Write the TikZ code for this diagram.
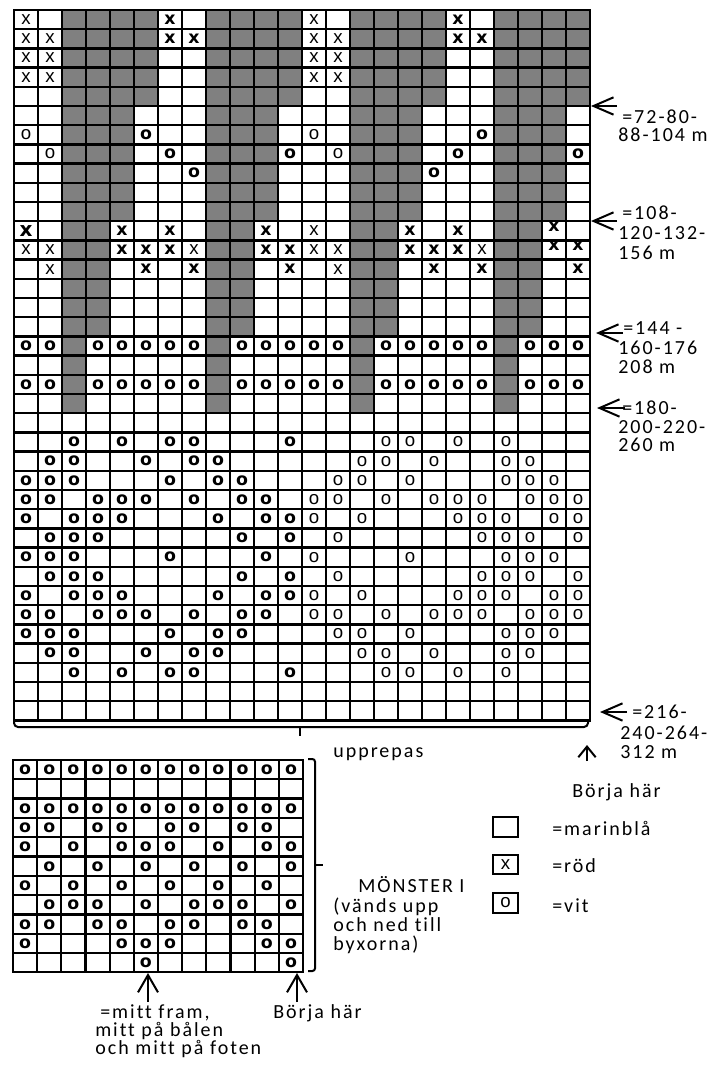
\documentclass[tikz,border=0pt]{standalone}
\usepackage{fontspec}
\setmainfont{Carlito}
\newfontfamily\lblfont[LetterSpace=10,Ligatures={NoCommon}]{Carlito}
\newfontfamily\markfont{DejaVu Sans}
\newfontfamily\thinfont{Liberation Sans}
\usetikzlibrary{arrows.meta}

\begin{document}
\begin{tikzpicture}[x=0.75pt,y=0.75pt,yscale=-1,xscale=1,
  gridline/.style={line width=1.7pt, line cap=rect},
  boldmark/.style={inner sep=0pt, font=\markfont\bfseries\fontsize{13}{13}\selectfont},
  bigmark/.style={inner sep=0pt, font=\markfont\bfseries\fontsize{15}{15}\selectfont},
  thinmark/.style={inner sep=0pt, font=\thinfont\fontsize{14}{14}\selectfont},
  lbl/.style={inner sep=0pt, anchor=base west, font=\lblfont\fontsize{15}{15}\selectfont},
  rowarrow/.style={line width=1.5pt, -{Straight Barb[length=15pt,width=13pt]}},
  uparrow/.style={line width=1.5pt, -{Straight Barb[length=13pt,width=15pt]}},
  smallup/.style={line width=1.5pt, -{Straight Barb[length=8pt,width=13pt]}}]
\useasboundingbox (0,0) rectangle (720,1068);

%% main chart: 24 columns x 37 rows, cell 24 x 19.2
% grey bands
\foreach \k in {0,6,12,18} {
  \fill[gray] ({14+24*(\k+2)},10) rectangle ({14+24*(\k+6)},106);
  \fill[gray] ({14+24*(\k+2)},106) rectangle ({14+24*(\k+5)},221.2);
  \fill[gray] ({14+24*(\k+2)},221.2) rectangle ({14+24*(\k+4)},336.4);
  \fill[gray] ({14+24*(\k+2)},336.4) rectangle ({14+24*(\k+3)},413.2);
}
% grid lines
\foreach \i in {0,...,24} \draw[gridline] ({14+24*\i},10) -- ({14+24*\i},720.4);
\foreach \j in {0,...,37} \draw[gridline] (14,{10+19.2*\j}) -- (590,{10+19.2*\j});

% red stitches (x)
\foreach \r/\cs in {1/{1,13},2/{1,2,13,14},3/{1,2,13,14},4/{1,2,13,14},12/{13},13/{1,2,8,13,14,20},14/{2,14}}
  \foreach \c in \cs \node[thinmark] (x-\r-\c) at ({24*\c+2},{19.2*\r+0.4}) {x};
\foreach \r/\cs in {1/{7,19},2/{7,8,19,20},12/{5,7,11,17,19},13/{5,6,7,11,12,17,18,19},14/{6,8,12,18,20,24}}
  \foreach \c in \cs \node[boldmark] (x-\r-\c) at ({24*\c+2},{19.2*\r+0.4}) {x};
\foreach \r/\cs in {12/{23},13/{23,24}}
  \foreach \c in \cs \node[boldmark] (x-\r-\c) at ({24*\c+2},{19.2*\r-3.6}) {x};
\node[bigmark] (x-12-1) at (26,230.8) {x};

% white stitches (o)
\foreach \r/\cs in {7/{6,20},8/{7,12,19,24},9/{8,18},
    18/{1,2,4,5,6,7,8,10,11,12,13,14,16,17,18,19,20,22,23,24},
    20/{1,2,4,5,6,7,8,10,11,12,13,14,16,17,18,19,20,22,23,24},
    23/{3,5,7,8,12},24/{2,3,6,8,9},25/{1,2,3,7,9,10},26/{1,2,4,5,6,8,10,11},
    27/{1,3,4,5,9,11,12},28/{2,3,4,10,12},29/{1,2,3,7,11},30/{2,3,4,10,12},
    31/{1,3,4,5,9,11,12},32/{1,2,4,5,6,8,10,11},33/{1,2,3,7,9,10},
    34/{2,3,6,8,9},35/{3,5,7,8,12}}
  \foreach \c in \cs \node[boldmark] (o-\r-\c) at ({24*\c+2},{19.2*\r+0.4}) {o};
\foreach \r/\cs in {7/{1,13},8/{2,14},
    23/{16,17,19,21},24/{15,16,18,21,22},25/{14,15,17,21,22,23},
    26/{13,14,16,18,19,20,22,23,24},27/{13,15,19,20,21,23,24},28/{14,20,21,22,24},
    29/{13,17,21,22,23},30/{14,20,21,22,24},31/{13,15,19,20,21,23,24},
    32/{13,14,16,18,19,20,22,23,24},33/{14,15,17,21,22,23},34/{15,16,18,21,22},
    35/{16,17,19,21}}
  \foreach \c in \cs \node[thinmark] (o-\r-\c) at ({24*\c+2},{19.2*\r+0.4}) {o};

% brace under the chart
\draw[line width=1.5pt, rounded corners=3] (14,721) -- (14,727) -- (588,727) -- (588,721);
\draw[line width=1.5pt] (300,727) -- (300,736);

%% size arrows on the right
\coordinate (a1) at (591,106);  \coordinate (a1t) at (617,106);
\coordinate (a2) at (591,221);  \coordinate (a2t) at (617,221);
\coordinate (a3) at (596,333);  \coordinate (a3t) at (623,333);
\coordinate (a4) at (597,408);  \coordinate (a4t) at (625,408);
\coordinate (a5) at (600,712);  \coordinate (a5t) at (627,712);
\foreach \n in {1,...,5} \draw[rowarrow] (a\n t) -- (a\n);

% Text Node
\node[lbl] (s1a) at (622,123) {=72-80-};
\node[lbl] (s1b) at (618,141) {88-104 m};
\node[lbl] (s2a) at (622,219) {=108-};
\node[lbl] (s2b) at (618,239) {120-132-};
\node[lbl] (s2c) at (618,259) {156 m};
\node[lbl] (s3a) at (623,334) {=144 -};
\node[lbl] (s3b) at (618,354) {160-176};
\node[lbl] (s3c) at (618,373) {208 m};
\node[lbl] (s4a) at (622,414) {=180-};
\node[lbl] (s4b) at (618,433) {200-220-};
\node[lbl] (s4c) at (618,451) {260 m};
\node[lbl] (s5a) at (632,718) {=216-};
\node[lbl] (s5b) at (620,739) {240-264-};
\node[lbl] (s5c) at (620,758) {312 m};

\node[lbl] (rep) at (333,757) {upprepas};
\coordinate (st1) at (587,745); \coordinate (st1t) at (587,761);
\draw[smallup] (st1t) -- (st1);
\node[lbl] (start1) at (572,797) {Börja här};

%% legend
\draw[gridline] (493,817) rectangle (518,837);
\node[lbl] (key1) at (552,835) {=marinblå};
\draw[gridline] (493,855) rectangle (518,874);
\node[thinmark] (keyx) at (505.5,864.5) {x};
\node[lbl] (key2) at (552,872) {=röd};
\draw[gridline] (493,893) rectangle (518,913);
\node[thinmark] (keyo) at (505.5,903) {o};
\node[lbl] (key3) at (552,912) {=vit};

%% MÖNSTER I: 12 columns x 11 rows, cell 24.17 x 19.3
\foreach \i in {0,...,12} \draw[gridline] ({13+24.17*\i},760) -- ({13+24.17*\i},972.3);
\foreach \j in {0,...,11} \draw[gridline] (13,{760+19.3*\j}) -- (303,{760+19.3*\j});
\foreach \r/\cs in {1/{1,...,12},3/{1,...,12},4/{1,2,4,5,7,8,10,11},5/{1,3,5,6,7,9,11,12},
    6/{2,4,6,8,10,12},7/{1,3,5,7,9,11},8/{2,3,4,6,8,9,10,12},9/{1,2,4,5,7,8,10,11},
    10/{1,5,6,7,11,12},11/{6,12}}
  \foreach \c in \cs \node[boldmark] (p-\r-\c) at ({13+24.17*\c-12.08},{760+19.3*\r-9.25}) {o};

% bracket beside the small chart
\draw[line width=1.5pt, rounded corners=2] (308,759) -- (315,759) -- (315,971) -- (308,971);
\draw[line width=1.5pt] (315,865) -- (323,865);

\node[lbl] (m1) at (358,892) {MÖNSTER I};
\node[lbl] (m2) at (333,912) {(vänds upp};
\node[lbl] (m3) at (333,931) {och ned till};
\node[lbl] (m4) at (333,950) {byxorna)};

% arrows under the small chart
\coordinate (mid) at (148,973); \coordinate (midt) at (148,1002);
\coordinate (st2) at (297,973); \coordinate (st2t) at (297,1002);
\draw[uparrow] (midt) -- (mid);
\draw[uparrow] (st2t) -- (st2);
\node[lbl] (c1) at (100,1018) {=mitt fram,};
\node[lbl] (c2) at (95,1036) {mitt på bålen};
\node[lbl] (c3) at (95,1054) {och mitt på foten};
\node[lbl] (start2) at (273,1018) {Börja här};
\end{tikzpicture}
\end{document}
